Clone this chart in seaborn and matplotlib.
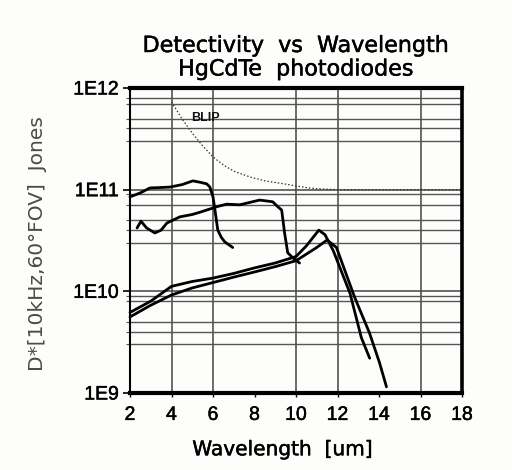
import matplotlib
matplotlib.use("Agg")
import matplotlib.pyplot as plt
import matplotlib.patheffects as pe
import seaborn as sns
import pandas as pd
import numpy as np
from matplotlib.ticker import FixedLocator, NullFormatter

# ---- data ----
blip_x = [4.0, 4.5, 5.0, 5.5, 6.0, 6.5, 7.0, 7.8, 8.5, 9.2, 10.0, 10.6, 11.1, 12.0, 14.0, 16.0, 18.0]
blip_y = [7.3e11, 5.0e11, 3.6e11, 2.7e11, 2.1e11, 1.75e11, 1.52e11, 1.33e11, 1.22e11, 1.16e11,
          1.09e11, 1.04e11, 1.02e11, 1.0e11, 1.0e11, 1.0e11, 1.0e11]

mwir_x = [2.0, 2.5, 2.96, 3.5, 3.92, 4.5, 5.03, 5.4, 5.7, 5.85, 6.0, 6.13, 6.23, 6.4, 6.57, 6.95]
mwir_y = [8.5e10, 9.3e10, 1.04e11, 1.05e11, 1.06e11, 1.12e11, 1.22e11, 1.18e11, 1.14e11, 1.06e11,
          8.5e10, 5.6e10, 4.0e10, 3.4e10, 3.06e10, 2.7e10]

lwir1_x = [2.34, 2.53, 2.8, 3.2, 3.5, 3.78, 4.4, 5.0, 5.37, 6.0, 6.18, 6.66, 7.29, 8.25, 8.88,
           9.12, 9.31, 9.45, 9.6, 9.84, 10.17]
lwir1_y = [4.2e10, 4.9e10, 4.2e10, 3.75e10, 4.0e10, 4.7e10, 5.4e10, 5.7e10, 6.0e10, 6.6e10,
           6.8e10, 7.2e10, 7.1e10, 7.9e10, 7.6e10, 6.8e10, 6.3e10, 3.75e10, 2.4e10, 2.14e10, 1.9e10]

lwir2_x = [2.0, 3.0, 4.0, 5.0, 6.0, 7.0, 8.0, 9.0, 10.0, 10.5, 11.1, 11.4, 11.8, 12.6, 13.15, 13.55]
lwir2_y = [6.2e9, 8.0e9, 1.12e10, 1.25e10, 1.35e10, 1.5e10, 1.7e10, 1.9e10, 2.2e10, 2.8e10, 4.0e10,
           3.6e10, 2.5e10, 9.6e9, 3.5e9, 2.2e9]

lwir3_x = [2.0, 3.0, 4.0, 5.0, 6.0, 7.0, 8.0, 9.0, 10.0, 11.0, 11.5, 11.95, 12.82, 13.54, 14.02, 14.36]
lwir3_y = [5.6e9, 7.3e9, 9.2e9, 1.08e10, 1.22e10, 1.38e10, 1.55e10, 1.75e10, 2.0e10, 2.7e10, 3.2e10,
           2.7e10, 8.8e9, 3.9e9, 2.0e9, 1.15e9]

x_ticks = [2, 4, 6, 8, 10, 12, 14, 16, 18]
x_grid = [4, 6, 10, 12, 16]
y_ticks = [1e9, 1e10, 1e11, 1e12]
y_tick_labels = ["1E9", "1E10", "1E11", "1E12"]
y_minor = [3e9, 4e9, 5e9, 8e9, 9e9, 3e10, 4e10, 5e10, 7e10, 9e10, 3e11, 4e11, 5e11, 7e11, 8e11]

title_text = "Detectivity  vs  Wavelength\nHgCdTe  photodiodes"
xlabel_text = "Wavelength  [um]"
ylabel_text = "D*[10kHz,60°FOV]  Jones"

# ---- figure ----
sns.set_theme(style="white")
plt.rcParams["font.family"] = ["Liberation Sans", "DejaVu Sans"]
plt.rcParams["text.color"] = "black"

heavy = [pe.withStroke(linewidth=0.35, foreground="black")]

fig = plt.figure(figsize=(5.12, 4.70), dpi=100, facecolor="#fdfdfb")
ax = fig.add_axes([130 / 512, 1 - 393 / 470, (462 - 130) / 512, (393 - 88) / 470])
ax.set_facecolor("#fdfdfb")

ax.set_yscale("log")
ax.set_xlim(2, 18)
ax.set_ylim(1e9, 1e12)

# grid
for gx in x_grid:
    ax.axvline(gx, color="#444444", lw=1.1, zorder=1)
for gy in y_ticks[1:-1]:
    ax.axhline(gy, color="#444444", lw=1.1, zorder=1)
for gy in y_minor:
    ax.axhline(gy, color="#555555", lw=1.0, zorder=1)

series = [
    (mwir_x, mwir_y),
    (lwir1_x, lwir1_y),
    (lwir2_x, lwir2_y),
    (lwir3_x, lwir3_y),
]
for xs, ys in series:
    df = pd.DataFrame({"x": xs, "y": ys})
    sns.lineplot(data=df, x="x", y="y", ax=ax, sort=False, color="black", lw=2.0,
                 estimator=None, zorder=3, clip_on=False)

dfb = pd.DataFrame({"x": blip_x, "y": blip_y})
sns.lineplot(data=dfb, x="x", y="y", ax=ax, sort=False, color="#333333", lw=0.9,
             linestyle=(0, (1.2, 1.6)), estimator=None, zorder=2)
ax.text(4.95, 5.1e11, "BLIP", fontsize=9, fontweight="bold", ha="left", va="center",
        color="#111111")

# ticks
ax.set_xticks(x_ticks)
ax.set_xticklabels([str(t) for t in x_ticks], fontsize=14)
ax.set_yticks(y_ticks)
ax.set_yticklabels(y_tick_labels, fontsize=14)
for lbl in ax.get_xticklabels() + ax.get_yticklabels():
    lbl.set_path_effects(heavy)
ax.yaxis.set_minor_locator(FixedLocator(y_minor))
ax.yaxis.set_minor_formatter(NullFormatter())
ax.tick_params(axis="y", which="major", direction="out", length=5, width=1.2, left=True,
               pad=3, colors="black")
ax.tick_params(axis="y", which="minor", direction="out", length=3, width=0.8, left=True,
               colors="#555555")
ax.tick_params(axis="x", which="major", direction="out", length=3, width=1.0, bottom=True,
               pad=7, colors="black")

ax.set_xlabel(xlabel_text, fontsize=14.5, family=["DejaVu Sans"], color="black",
              path_effects=heavy)
ax.xaxis.set_label_coords(0.46, -0.155)
ax.set_ylabel(ylabel_text, fontsize=14.5, color="#4a4a4a", family=["DejaVu Sans"])
ax.yaxis.set_label_coords(-0.25, 0.49)
ax.set_title(title_text, fontsize=16, pad=9, linespacing=1.22, family=["DejaVu Sans"],
             color="black", path_effects=heavy)

for side, w in [("top", 3.0), ("bottom", 3.0), ("right", 2.6), ("left", 1.5)]:
    ax.spines[side].set_visible(True)
    ax.spines[side].set_linewidth(w)
    ax.spines[side].set_color("black")

fig.savefig("out.png", dpi=100, facecolor=fig.get_facecolor())
